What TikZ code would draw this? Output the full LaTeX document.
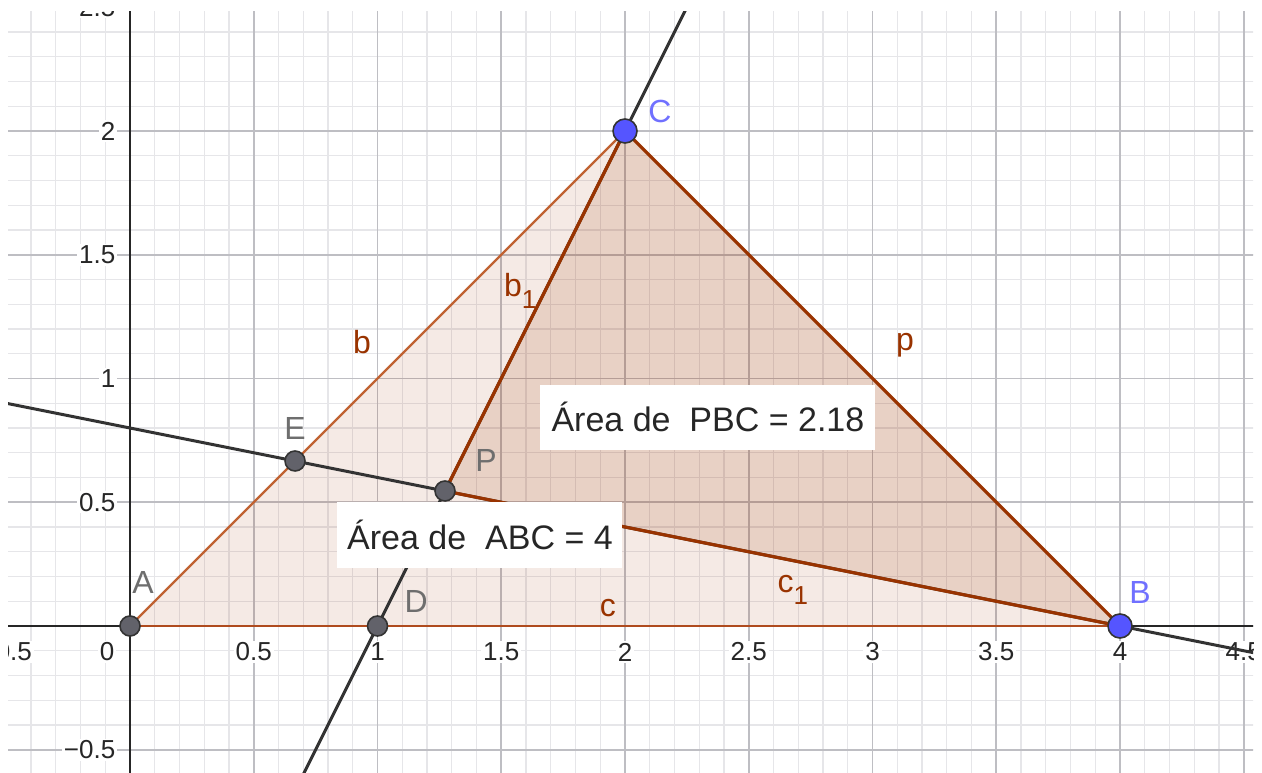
\documentclass[tikz,border=0pt]{standalone}
\usepackage{fontspec}
\setmainfont{Liberation Sans}
\definecolor{seg}{RGB}{153,51,0}
\definecolor{segl}{RGB}{192,98,50}
\definecolor{segc}{RGB}{175,75,30}
\definecolor{ptgray}{RGB}{98,98,106}
\definecolor{ptblue}{RGB}{85,85,255}
\definecolor{lblblue}{RGB}{112,112,255}
\definecolor{lblgray}{RGB}{110,110,110}
\definecolor{gridmin}{RGB}{230,230,233}
\definecolor{gridmaj}{RGB}{190,190,195}
\begin{document}
\begin{tikzpicture}[x=123.75pt,y=123.75pt,
  minorgrid/.style={draw=gridmin,line width=0.6pt},
  majorgrid/.style={draw=gridmaj,line width=0.8pt},
  axisline/.style={draw=black!85,line width=1pt},
  ticklbl/.style={font=\fontsize{13}{13}\selectfont,text=black!85,fill=white,inner sep=1pt},
  infline/.style={draw=black!80,line width=1.5pt},
  polyseg/.style={draw=seg,line width=1.6pt},
  triseg/.style={draw=segl,line width=1.2pt},
  gpt/.style={circle,fill=ptgray,draw=black!80,line width=0.8pt,minimum size=10pt,inner sep=0pt},
  bpt/.style={circle,fill=ptblue,draw=black!80,line width=0.8pt,minimum size=12pt,inner sep=0pt},
  ptlbl/.style={font=\fontsize{16}{16}\selectfont,inner sep=0pt},
  seglbl/.style={font=\fontsize{16}{16}\selectfont,text=seg,inner sep=0pt},
  areabox/.style={fill=white,font=\fontsize{17}{17}\selectfont,text=black!85,inner sep=0pt}]
\useasboundingbox (-0.5253,-0.5939) rectangle (4.5737,2.5293);
\begin{scope}
\clip (-0.4929,-0.5939) rectangle (4.5374,2.4808);
% grid
\foreach \i in {-6,...,46} {\draw[minorgrid] (\i/10,-0.7) -- (\i/10,2.6);}
\foreach \j in {-6,...,25} {\draw[minorgrid] (-0.6,\j/10) -- (4.7,\j/10);}
\foreach \i in {-1,...,9} {\draw[majorgrid] (\i/2,-0.7) -- (\i/2,2.6);}
\foreach \j in {-1,...,5} {\draw[majorgrid] (-0.6,\j/2) -- (4.7,\j/2);}
% points
\coordinate (A) at (0,0);
\coordinate (B) at (4,0);
\coordinate (C) at (2,2);
\coordinate (D) at (1,0);
\coordinate (E) at (0.6667,0.6667);
\coordinate (P) at (1.2727,0.5455);
\coordinate (L1a) at (0.65,-0.7);
\coordinate (L1b) at (2.3,2.6);
\coordinate (L2a) at (-0.6,0.92);
\coordinate (L2b) at (4.7,-0.14);
% fills
\fill[seg,opacity=0.1] (A) -- (B) -- (C) -- cycle;
\fill[seg,opacity=0.14] (P) -- (B) -- (C) -- cycle;
% axes
\draw[axisline] (-0.6,0) -- (4.7,0);
\draw[axisline] (0,-0.7) -- (0,2.6);
% tick labels
\node[ticklbl] (xm05) at (-0.5,-0.105) {−0.5};
\node[ticklbl] (x0) at (-0.093,-0.105) {0};
\node[ticklbl] (x05) at (0.5,-0.105) {0.5};
\node[ticklbl] (x1) at (1,-0.105) {1};
\node[ticklbl] (x15) at (1.5,-0.105) {1.5};
\node[ticklbl] (x2) at (2,-0.105) {2};
\node[ticklbl] (x25) at (2.5,-0.105) {2.5};
\node[ticklbl] (x3) at (3,-0.105) {3};
\node[ticklbl] (x35) at (3.5,-0.105) {3.5};
\node[ticklbl] (x4) at (4,-0.105) {4};
\node[ticklbl] (x45) at (4.5,-0.105) {4.5};
\node[ticklbl,anchor=east] (ym05) at (-0.05,-0.5) {−0.5};
\node[ticklbl,anchor=east] (y05) at (-0.05,0.5) {0.5};
\node[ticklbl,anchor=east] (y1) at (-0.05,1) {1};
\node[ticklbl,anchor=east] (y15) at (-0.05,1.5) {1.5};
\node[ticklbl,anchor=east] (y2) at (-0.05,2) {2};
\node[ticklbl,anchor=east] (y25) at (-0.05,2.5) {2.5};
% lines
\draw[infline] (L1a) -- (L1b);
\draw[infline] (L2a) -- (L2b);
% triangle ABC
\draw[triseg] (A) -- (C);
\draw[triseg,draw=segc,line width=1.4pt] (A) -- (B);
% triangle PBC
\draw[polyseg] (P) -- (C);
\draw[polyseg] (C) -- (B);
\draw[polyseg] (P) -- (B);
% point markers
\node[gpt] (pA) at (A) {};
\node[gpt] (pD) at (D) {};
\node[gpt] (pE) at (E) {};
\node[gpt] (pP) at (P) {};
\node[bpt] (pB) at (B) {};
\node[bpt] (pC) at (C) {};
% point labels
\node[ptlbl,text=lblgray] (lA) at (0.053,0.174) {A};
\node[ptlbl,text=lblgray] (lD) at (1.156,0.097) {D};
\node[ptlbl,text=lblgray] (lE) at (0.667,0.8) {E};
\node[ptlbl,text=lblgray] (lP) at (1.438,0.667) {P};
\node[ptlbl,text=lblblue] (lB) at (4.081,0.137) {B};
\node[ptlbl,text=lblblue] (lC) at (2.141,2.077) {C};
% segment labels
\node[seglbl] (lb) at (0.937,1.147) {b};
\node[seglbl,anchor=base west] (lb1) at (1.51,1.33) {b{\fontsize{13}{13}\selectfont\raisebox{-0.45em}{1}}};
\node[seglbl] (lp) at (3.131,1.135) {p};
\node[seglbl] (lc) at (1.931,0.073) {c};
\node[seglbl,anchor=base west] (lc1) at (2.615,0.135) {c{\fontsize{13}{13}\selectfont\raisebox{-0.45em}{1}}};
% area boxes
\node[areabox,minimum width=167.5pt,minimum height=32.5pt] (bPBC) at (2.335,0.844) {Área de\ \ PBC = 2.18};
\node[areabox,minimum width=142.5pt,minimum height=33pt] (bABC) at (1.414,0.368) {Área de\ \ ABC = 4};
\end{scope}
\end{tikzpicture}
\end{document}
